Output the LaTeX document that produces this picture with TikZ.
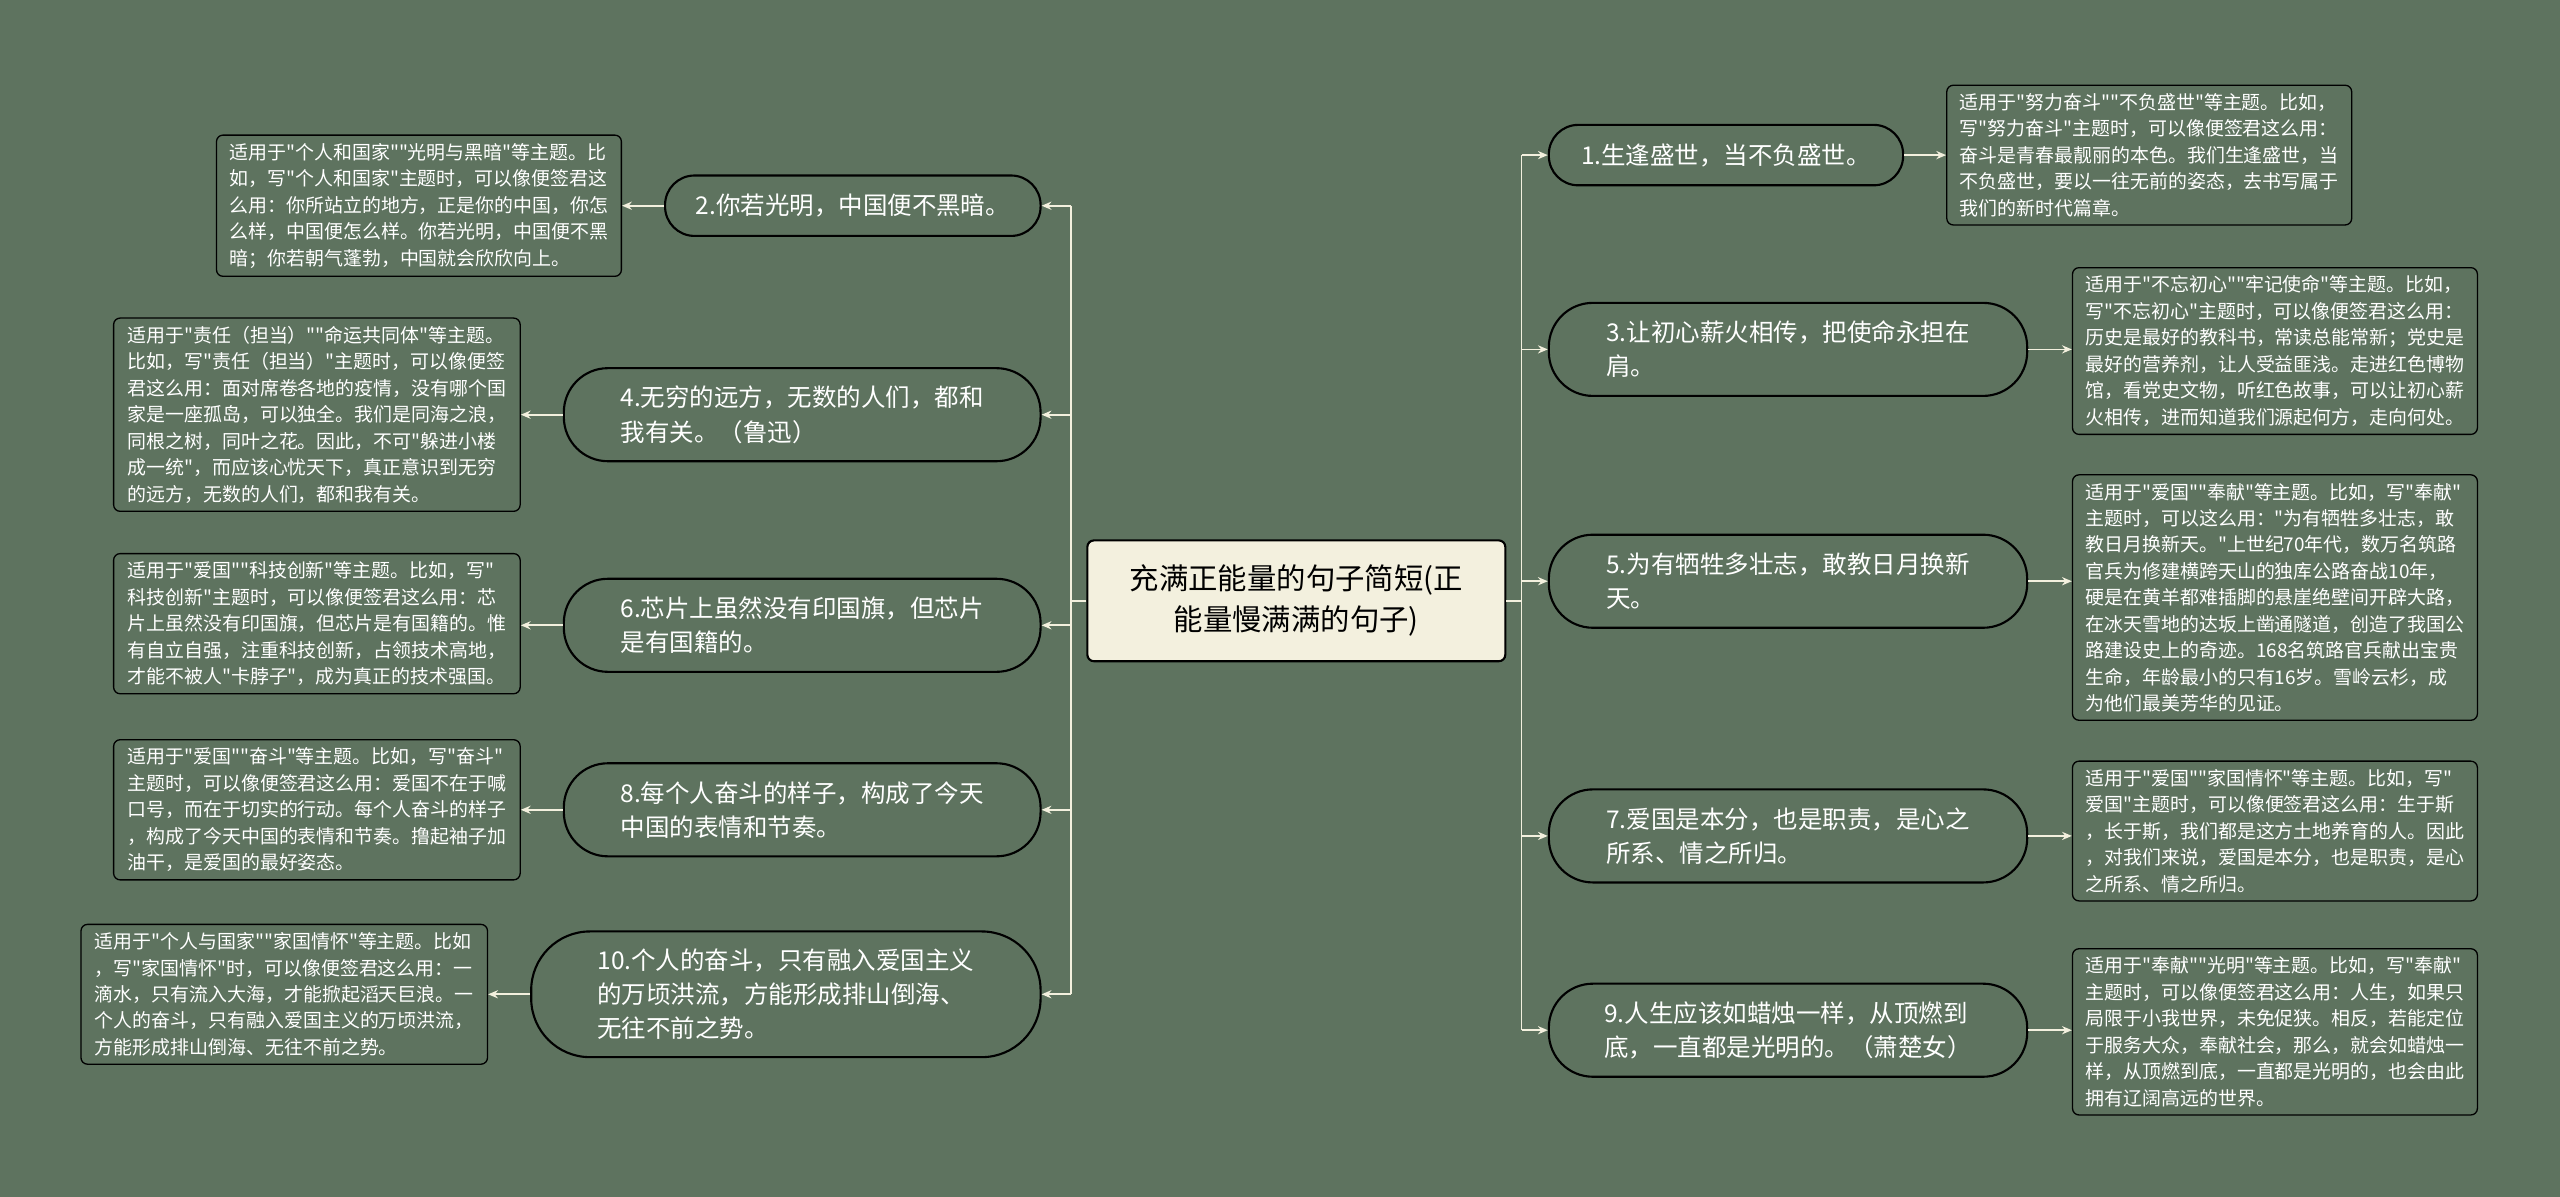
\documentclass[tikz,border=0pt]{standalone}
\usepackage{fontspec}
\setmainfont{Noto Sans CJK SC}[Ligatures=TeXOff]
\usetikzlibrary{arrows.meta}
\definecolor{bg}{HTML}{5E735F}
\definecolor{cream}{HTML}{F3F0DE}
\tikzset{
 br/.style={rectangle,rounded corners=18pt,draw=black,line width=1.3pt,fill=bg,text=white,font=\fontsize{15}{21}\selectfont,align=left,inner xsep=16pt,inner ysep=6pt,minimum height=37pt},
 br2/.style={br,rounded corners=27pt,minimum height=57pt},
 note/.style={rounded corners=4pt,draw=black,line width=0.8pt,fill=bg,text=white,font=\fontsize{11.6}{16.2}\selectfont,align=left,inner xsep=4pt,inner ysep=5pt},
 conn/.style={draw=cream,line width=1pt},
 arr/.style={conn,-{Stealth[length=6pt,width=5pt]}},
}
\begin{document}
\begin{tikzpicture}[x=1pt,y=-1pt]
\fill[bg] (0,0) rectangle (1568,733);
\useasboundingbox (0,0) rectangle (1568,733);
\node[rounded corners=4pt,draw=black,line width=1.3pt,fill=cream,text=black,font=\fontsize{18}{25}\selectfont,align=center,minimum width=256pt,minimum height=74pt] (c) at (794,368) {充满正能量的句子简短(正\\能量慢满满的句子)};
\coordinate (sR) at (932,368);
\coordinate (sL) at (656,368);
% right
\node[br,anchor=west,minimum width=217pt] (r1) at (948,95) {1.生逢盛世，当不负盛世。};
\node[br2,anchor=west,minimum width=293pt] (r3) at (948,214) {3.让初心薪火相传，把使命永担在\\肩。};
\node[br2,anchor=west,minimum width=293pt] (r5) at (948,356) {5.为有牺牲多壮志，敢教日月换新\\天。};
\node[br2,anchor=west,minimum width=293pt] (r7) at (948,512) {7.爱国是本分，也是职责，是心之\\所系、情之所归。};
\node[br2,anchor=west,minimum width=293pt] (r9) at (948,631) {9.人生应该如蜡烛一样，从顶燃到\\底，一直都是光明的。（萧楚女）};
% left
\node[br,anchor=east,minimum width=230pt] (l2) at (638,126) {2.你若光明，中国便不黑暗。};
\node[br2,anchor=east,minimum width=292pt] (l4) at (638,254) {4.无穷的远方，无数的人们，都和\\我有关。（鲁迅）};
\node[br2,anchor=east,minimum width=292pt] (l6) at (638,383) {6.芯片上虽然没有印国旗，但芯片\\是有国籍的。};
\node[br2,anchor=east,minimum width=292pt] (l8) at (638,496) {8.每个人奋斗的样子，构成了今天\\中国的表情和节奏。};
\node[br2,anchor=east,rounded corners=36pt,minimum width=312pt,minimum height=77pt] (l10) at (638,609) {10.个人的奋斗，只有融入爱国主义\\的万顷洪流，方能形成排山倒海、\\无往不前之势。};
% notes right
\node[note,anchor=west,minimum width=248pt] (n1) at (1192,95) {适用于"努力奋斗""不负盛世"等主题。比如，\\写"努力奋斗"主题时，可以像便签君这么用：\\奋斗是青春最靓丽的本色。我们生逢盛世，当\\不负盛世，要以一往无前的姿态，去书写属于\\我们的新时代篇章。};
\node[note,anchor=west,minimum width=248pt] (n3) at (1269,215) {适用于"不忘初心""牢记使命"等主题。比如，\\写"不忘初心"主题时，可以像便签君这么用：\\历史是最好的教科书，常读总能常新；党史是\\最好的营养剂，让人受益匪浅。走进红色博物\\馆，看党史文物，听红色故事，可以让初心薪\\火相传，进而知道我们源起何方，走向何处。};
\node[note,anchor=west,minimum width=248pt] (n5) at (1269,366) {适用于"爱国""奉献"等主题。比如，写"奉献"\\主题时，可以这么用："为有牺牲多壮志，敢\\教日月换新天。"上世纪70年代，数万名筑路\\官兵为修建横跨天山的独库公路奋战10年，\\硬是在黄羊都难插脚的悬崖绝壁间开辟大路，\\在冰天雪地的达坂上凿通隧道，创造了我国公\\路建设史上的奇迹。168名筑路官兵献出宝贵\\生命，年龄最小的只有16岁。雪岭云杉，成\\为他们最美芳华的见证。};
\node[note,anchor=west,minimum width=248pt] (n7) at (1269,509) {适用于"爱国""家国情怀"等主题。比如，写"\\爱国"主题时，可以像便签君这么用：生于斯\\，长于斯，我们都是这方土地养育的人。因此\\，对我们来说，爱国是本分，也是职责，是心\\之所系、情之所归。};
\node[note,anchor=west,minimum width=248pt] (n9) at (1269,632) {适用于"奉献""光明"等主题。比如，写"奉献"\\主题时，可以像便签君这么用：人生，如果只\\局限于小我世界，未免促狭。相反，若能定位\\于服务大众，奉献社会，那么，就会如蜡烛一\\样，从顶燃到底，一直都是光明的，也会由此\\拥有辽阔高远的世界。};
% notes left
\node[note,anchor=east,minimum width=248pt] (m2) at (381,126) {适用于"个人和国家""光明与黑暗"等主题。比\\如，写"个人和国家"主题时，可以像便签君这\\么用：你所站立的地方，正是你的中国，你怎\\么样，中国便怎么样。你若光明，中国便不黑\\暗；你若朝气蓬勃，中国就会欣欣向上。};
\node[note,anchor=east,minimum width=249pt] (m4) at (319,254) {适用于"责任（担当）""命运共同体"等主题。\\比如，写"责任（担当）"主题时，可以像便签\\君这么用：面对席卷各地的疫情，没有哪个国\\家是一座孤岛，可以独全。我们是同海之浪，\\同根之树，同叶之花。因此，不可"躲进小楼\\成一统"，而应该心忧天下，真正意识到无穷\\的远方，无数的人们，都和我有关。};
\node[note,anchor=east,minimum width=249pt] (m6) at (319,382) {适用于"爱国""科技创新"等主题。比如，写"\\科技创新"主题时，可以像便签君这么用：芯\\片上虽然没有印国旗，但芯片是有国籍的。惟\\有自立自强，注重科技创新，占领技术高地，\\才能不被人"卡脖子"，成为真正的技术强国。};
\node[note,anchor=east,minimum width=249pt] (m8) at (319,496) {适用于"爱国""奋斗"等主题。比如，写"奋斗"\\主题时，可以像便签君这么用：爱国不在于喊\\口号，而在于切实的行动。每个人奋斗的样子\\，构成了今天中国的表情和节奏。撸起袖子加\\油干，是爱国的最好姿态。};
\node[note,anchor=east,minimum width=249pt] (m10) at (299,609) {适用于"个人与国家""家国情怀"等主题。比如\\，写"家国情怀"时，可以像便签君这么用：一\\滴水，只有流入大海，才能掀起滔天巨浪。一\\个人的奋斗，只有融入爱国主义的万顷洪流，\\方能形成排山倒海、无往不前之势。};
% connectors
\draw[conn] (c.east) -- (sR);
\draw[conn] (c.west) -- (sL);
\draw[conn] (sR|-r1) -- (sR|-r9);
\draw[conn] (sL|-l2) -- (sL|-l10);
\foreach \b in {r1,r3,r5,r7,r9} \draw[arr] (sR|-\b) -- (\b.west);
\foreach \b in {l2,l4,l6,l8,l10} \draw[arr] (sL|-\b) -- (\b.east);
\draw[arr] (r1.east) -- (r1.east-|n1.west);
\draw[arr] (r3.east) -- (r3.east-|n3.west);
\draw[arr] (r5.east) -- (r5.east-|n5.west);
\draw[arr] (r7.east) -- (r7.east-|n7.west);
\draw[arr] (r9.east) -- (r9.east-|n9.west);
\draw[arr] (l2.west) -- (l2.west-|m2.east);
\draw[arr] (l4.west) -- (l4.west-|m4.east);
\draw[arr] (l6.west) -- (l6.west-|m6.east);
\draw[arr] (l8.west) -- (l8.west-|m8.east);
\draw[arr] (l10.west) -- (l10.west-|m10.east);
\end{tikzpicture}
\end{document}
